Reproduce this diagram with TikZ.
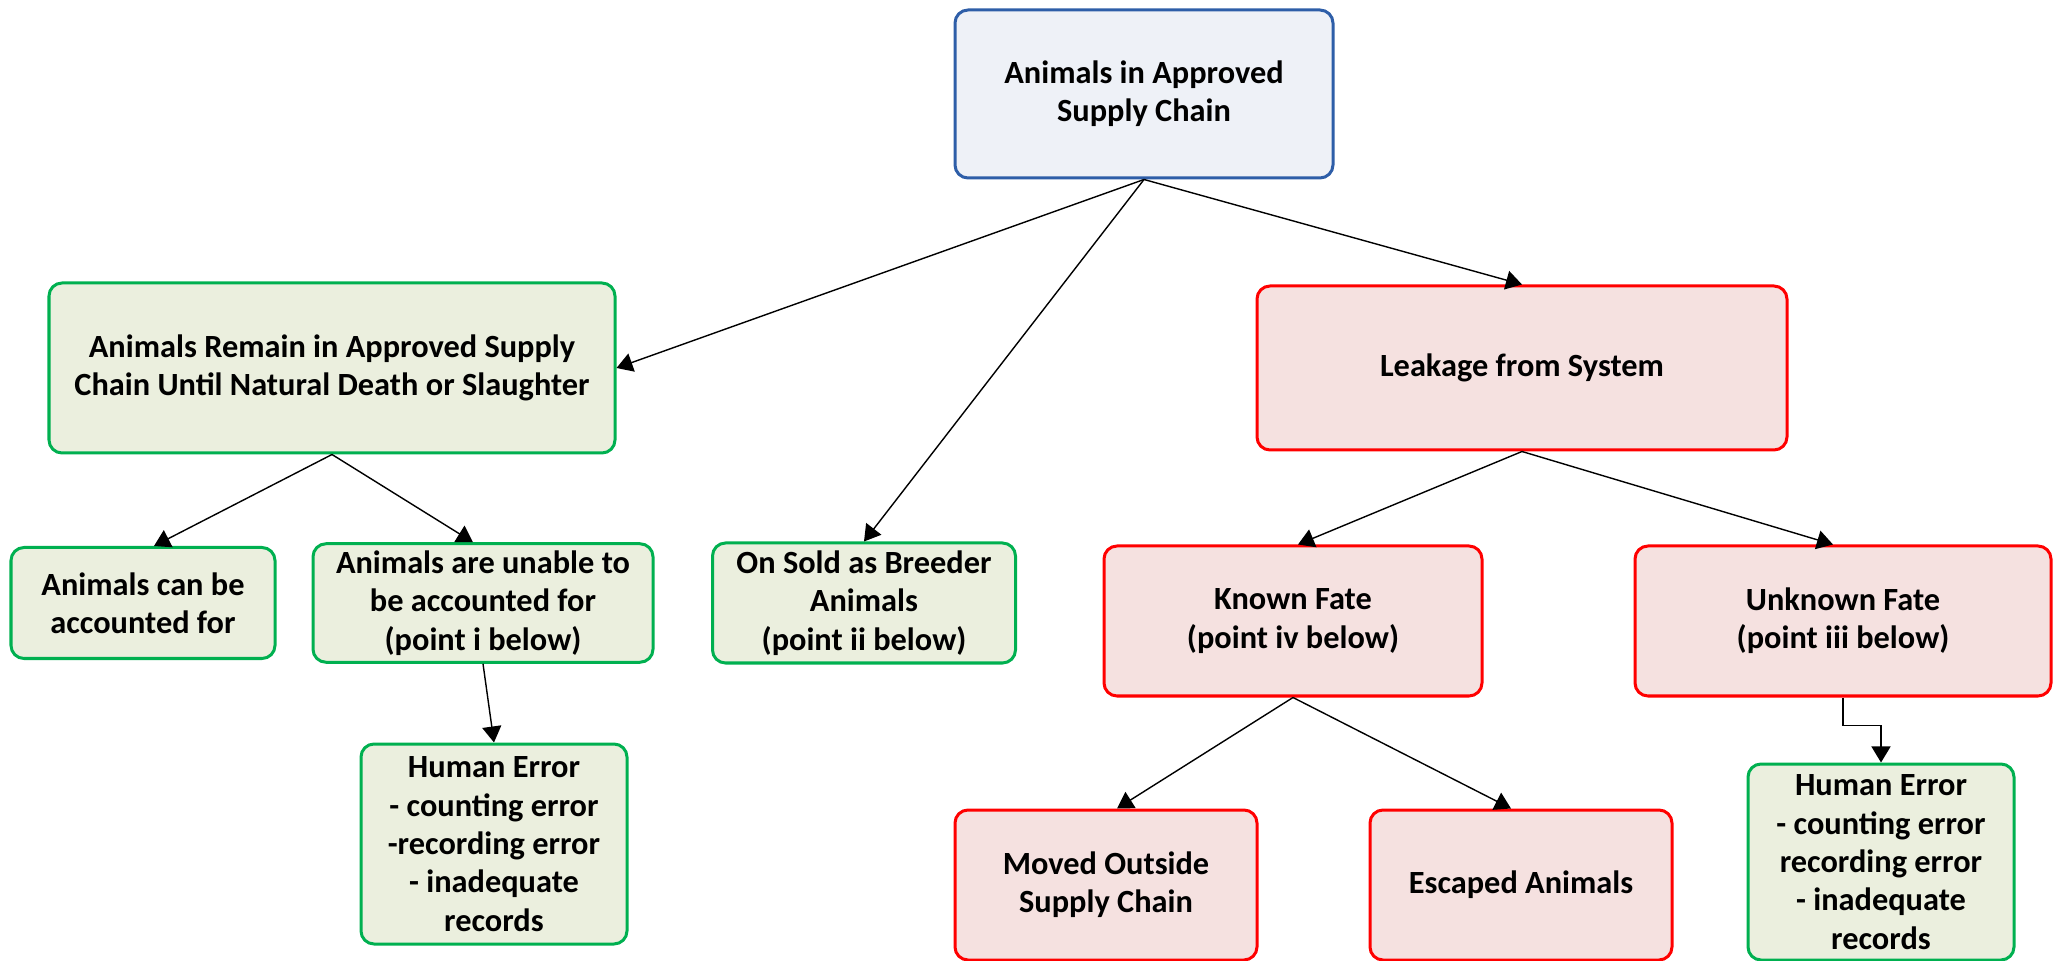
\documentclass[tikz,border=0pt]{standalone}
\usepackage{fontspec}
\setmainfont{Carlito}
\usetikzlibrary{arrows.meta}

\definecolor{lineblue}{HTML}{2E5EA8}
\definecolor{fillblue}{HTML}{EEF1F7}
\definecolor{linegreen}{HTML}{00B050}
\definecolor{fillgreen}{HTML}{EBEFDE}
\definecolor{linered}{HTML}{FF0000}
\definecolor{fillred}{HTML}{F5E1E0}

\tikzset{
  chainbox/.style={draw, rounded corners=0.13cm, line width=0.03cm, align=center,
    inner sep=2pt, font=\fontsize{9.2}{10.9}\selectfont\bfseries},
  boxsize/.style 2 args={minimum width=#1*0.01cm, minimum height=#2*0.01cm},
  bluebox/.style={chainbox, draw=lineblue, fill=fillblue},
  greenbox/.style={chainbox, draw=linegreen, fill=fillgreen},
  redbox/.style={chainbox, draw=linered, fill=fillred},
  arr/.style={-{Triangle[length=0.16cm,width=0.19cm]}, line width=0.4pt}
}

\begin{document}
\begin{tikzpicture}[x=0.01cm, y=-0.01cm]
    \useasboundingbox (0,0) rectangle (2060,961);
    % top level
    \node[bluebox, boxsize={378}{168}] (approved) at (1144,94) {Animals in Approved\\Supply Chain};
    % second level
    \node[greenbox, boxsize={566}{170}] (remain) at (332,368) {Animals Remain in Approved Supply\\Chain Until Natural Death or Slaughter};
    \node[redbox, boxsize={530}{164}] (leakage) at (1522,368) {Leakage from System};
    % third level
    \node[greenbox, boxsize={264}{111}] (canbe) at (143,603) {Animals can be\\accounted for};
    \node[greenbox, boxsize={340}{111}] (unable) at (483,603) {Animals are unable to\\be accounted for\\(point i below)};
    \node[greenbox, boxsize={303}{120}] (sold) at (864,603) {On Sold as Breeder\\Animals\\(point ii below)};
    \node[redbox, boxsize={378}{150}] (known) at (1293,621) {Known Fate\\(point iv below)};
    \node[redbox, boxsize={416}{150}] (unknown) at (1843,621) {Unknown Fate\\(point iii below)};
    % bottom level
    \node[greenbox, boxsize={266}{200}] (errleft) at (494,844) {Human Error\\ - counting error\\-recording error\\- inadequate\\records};
    \node[redbox, boxsize={302}{150}] (moved) at (1106,885) {Moved Outside\\Supply Chain};
    \node[redbox, boxsize={302}{150}] (escaped) at (1521,885) {Escaped Animals};
    \node[greenbox, boxsize={266}{196}] (errright) at (1881,862) {Human Error\\ - counting error\\recording error\\- inadequate\\records};
    % connectors
    \draw[arr] (approved.south) -- (remain.east);
    \draw[arr] (approved.south) -- (sold.north);
    \draw[arr] (approved.south) -- (leakage.north);
    \draw[arr] (remain.south) -- ([xshift=0.11cm]canbe.north);
    \draw[arr] (remain.south) -- ([xshift=-0.1cm]unable.north);
    \draw[arr] (unable.south) -- (errleft.north);
    \draw[arr] (leakage.south) -- ([xshift=0.05cm]known.north);
    \draw[arr] (leakage.south) -- ([xshift=-0.1cm]unknown.north);
    \draw[arr] (known.south) -- ([xshift=0.11cm]moved.north);
    \draw[arr] (known.south) -- ([xshift=-0.1cm]escaped.north);
    \draw[arr] (unknown.south) -- ++(0,28) -| (errright.north);
\end{tikzpicture}
\end{document}
